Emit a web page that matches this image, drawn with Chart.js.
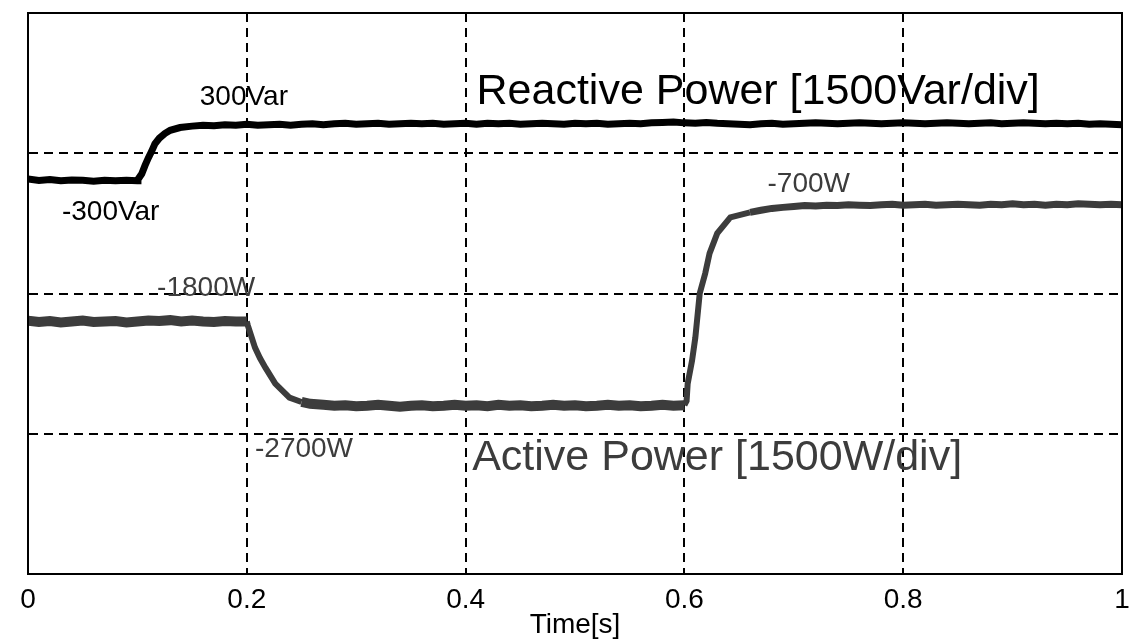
<!DOCTYPE html>
<html>
<head>
<meta charset="utf-8">
<script src="https://cdn.jsdelivr.net/npm/chart.js@4/dist/chart.umd.min.js"></script>
<style>
  html,body{margin:0;padding:0;background:#fff;}
  #wrap{width:1135px;height:644px;}
</style>
</head>
<body>
<div id="wrap"><canvas id="power-chart"></canvas></div>
<script>
// time axis ticks
const timeTicks = [0, 0.2, 0.4, 0.6, 0.8, 1];

// reactive power trace (1500 per div)
const reactiveT = [0,0.01,0.02,0.03,0.04,0.05,0.06,0.07,0.08,0.09,0.10,
  0.1005,0.104,0.107,0.110,0.113,0.116,0.120,0.125,0.130,0.139,0.150,
  0.16,0.17,0.18,0.19,0.20,0.21,0.22,0.23,0.24,0.25,0.26,0.27,0.28,0.29,
  0.30,0.31,0.32,0.33,0.34,0.35,0.36,0.37,0.38,0.39,0.40,0.41,0.42,0.43,0.44,
  0.45,0.46,0.47,0.48,0.49,0.50,0.51,0.52,0.53,0.54,0.55,0.56,0.57,0.58,0.59,
  0.60,0.61,0.62,0.63,0.64,0.65,0.66,0.67,0.68,0.69,0.70,0.71,0.72,0.73,0.74,
  0.75,0.76,0.77,0.78,0.79,0.80,0.81,0.82,0.83,0.84,0.85,0.86,0.87,0.88,0.89,
  0.90,0.91,0.92,0.93,0.94,0.95,0.96,0.97,0.98,0.99,1.00];
const reactiveP = [-275,-290,-280,-295,-285,-290,-300,-290,-295,-290,-295,
  -280,-220,-130,-50,20,100,160,210,245,275,290,
  300,295,305,300,310,300,305,310,300,310,315,305,315,320,
  310,315,320,310,315,320,315,320,310,315,320,310,320,315,320,
  310,315,320,315,310,320,315,320,310,315,320,315,325,330,335,
  325,320,330,320,315,310,305,315,320,310,315,320,325,320,315,
  320,325,320,315,320,325,320,315,320,325,320,315,320,325,315,
  320,325,320,315,320,315,320,310,315,310,305];

// active power trace
const activeT = [0,0.01,0.02,0.03,0.04,0.05,0.06,0.07,0.08,0.09,0.10,
  0.11,0.12,0.13,0.14,0.15,0.16,0.17,0.18,0.19,0.20,
  0.201,0.2075,0.212,0.217,0.226,0.239,0.250,0.258,0.27,0.28,0.29,
  0.30,0.31,0.32,0.33,0.34,0.35,0.36,0.37,0.38,0.39,0.40,0.41,0.42,0.43,0.44,
  0.45,0.46,0.47,0.48,0.49,0.50,0.51,0.52,0.53,0.54,0.55,0.56,0.57,0.58,0.59,0.60,
  0.602,0.603,0.607,0.610,0.614,0.619,0.623,0.630,0.642,0.660,0.67,0.68,0.69,
  0.70,0.71,0.72,0.73,0.74,0.75,0.76,0.77,0.78,0.79,0.80,0.81,0.82,0.83,0.84,
  0.85,0.86,0.87,0.88,0.89,0.90,0.91,0.92,0.93,0.94,0.95,0.96,0.97,0.98,0.99,1.00];
const activeP = [-1790,-1805,-1795,-1810,-1800,-1790,-1805,-1800,-1795,-1810,-1800,
  -1790,-1795,-1785,-1800,-1790,-1800,-1805,-1795,-1800,-1800,
  -1843,-2079,-2190,-2293,-2464,-2614,-2660,-2680,-2690,-2700,-2695,
  -2705,-2700,-2690,-2700,-2710,-2700,-2695,-2705,-2700,-2690,-2700,-2695,-2705,-2690,-2700,
  -2695,-2705,-2700,-2690,-2700,-2695,-2705,-2700,-2690,-2700,-2695,-2705,-2700,-2690,-2700,-2695,
  -2650,-2464,-2218,-1971,-1500,-1286,-1071,-857,-686,-632,-610,-590,-579,
  -570,-560,-565,-555,-560,-550,-555,-560,-550,-545,-555,-550,-545,-555,-550,
  -545,-550,-555,-545,-550,-540,-550,-545,-555,-545,-550,-540,-545,-550,-545,-550];

// annotation texts, anchored at (time, value) of their left/middle point
const notes = [
  {text:'300Var', t:0.157, v:600, size:28, color:'#000'},
  {text:'-300Var', t:0.031, v:-632, size:28, color:'#000'},
  {text:'Reactive Power [1500Var/div]', t:0.410, v:654, size:43, color:'#000'},
  {text:'-1800W', t:0.118, v:-1446, size:28, color:'#3c3c3c'},
  {text:'-2700W', t:0.2075, v:-3161, size:28, color:'#3c3c3c'},
  {text:'-700W', t:0.676, v:-332, size:28, color:'#3c3c3c'},
  {text:'Active Power [1500W/div]', t:0.406, v:-3257, size:43, color:'#3c3c3c'}
];

const FONT = '"Liberation Sans", Arial, sans-serif';

const frameAndNotes = {
  id:'frameAndNotes',
  afterDraw(chart){
    const ctx = chart.ctx, a = chart.chartArea;
    const xs = chart.scales.x, ys = chart.scales.y;
    ctx.save();
    ctx.strokeStyle = '#000';
    ctx.lineWidth = 2;
    ctx.strokeRect(a.left, a.top, a.right - a.left, a.bottom - a.top);
    ctx.textAlign = 'left';
    ctx.textBaseline = 'middle';
    notes.forEach(n => {
      ctx.font = n.size + 'px ' + FONT;
      ctx.fillStyle = n.color;
      ctx.fillText(n.text, xs.getPixelForValue(n.t), ys.getPixelForValue(n.v));
    });
    ctx.restore();
  }
};

const toPts = (ts, vs) => ts.map((t, i) => ({x:t, y:vs[i]}));

function activeWidth(c){
  const x0 = c.p0.parsed.x;
  if ((x0 >= 0.2 && x0 < 0.25) || (x0 >= 0.6 && x0 < 0.65)) return 6;
  if (x0 >= 0.65) return 7;
  return 10;
}

new Chart(document.getElementById('power-chart'), {
  type:'line',
  data:{
    datasets:[
      {
        label:'Reactive Power',
        data:toPts(reactiveT, reactiveP),
        borderColor:'#000',
        borderWidth:7,
        pointRadius:0,
        tension:0
      },
      {
        label:'Active Power',
        data:toPts(activeT, activeP),
        borderColor:'#3c3c3c',
        borderWidth:10,
        pointRadius:0,
        tension:0,
        segment:{borderWidth:activeWidth}
      }
    ]
  },
  options:{
    responsive:true,
    maintainAspectRatio:false,
    animation:false,
    layout:{padding:{left:28, right:13, top:13, bottom:5}},
    plugins:{
      legend:{display:false},
      tooltip:{enabled:false}
    },
    scales:{
      x:{
        type:'linear',
        min:0, max:1,
        afterBuildTicks(axis){ axis.ticks = timeTicks.map(v => ({value:v})); },
        ticks:{
          color:'#000',
          padding:0,
          maxRotation:0,
          font:{family:FONT, size:28, lineHeight:1},
          callback:v => String(v)
        },
        // invisible tick marks push the labels down without widening the side padding
        grid:{color:'#000', lineWidth:2, drawTicks:true, tickLength:12, tickColor:'rgba(0,0,0,0)'},
        border:{display:true, color:'#000', width:2, dash:[9,6]},
        title:{
          display:true,
          text:'Time[s]',
          color:'#000',
          font:{family:FONT, size:28, lineHeight:1},
          padding:{top:-3, bottom:0}
        }
      },
      y:{
        type:'linear',
        min:-4500, max:1500,
        ticks:{display:false, stepSize:1500},
        grid:{color:'#000', lineWidth:2, drawTicks:false},
        border:{display:true, color:'#000', width:2, dash:[9,6]}
      }
    }
  },
  plugins:[frameAndNotes]
});
</script>
</body>
</html>
